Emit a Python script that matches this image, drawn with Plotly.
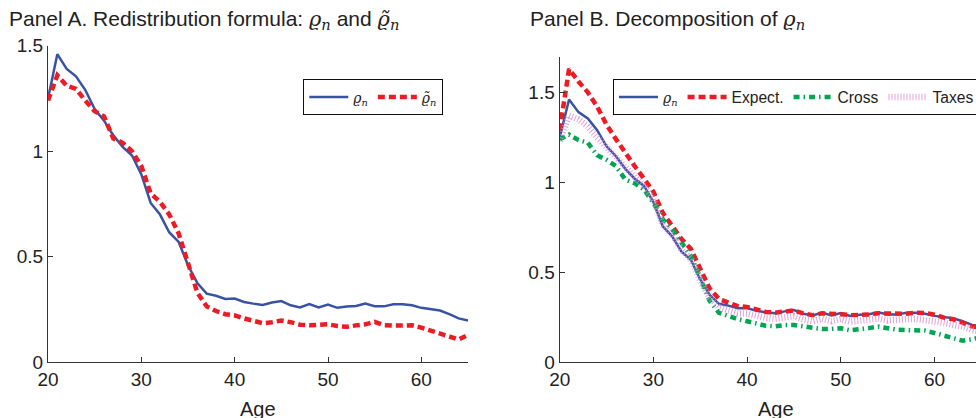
import plotly.graph_objects as go

ages = list(range(20, 66))

rho = [1.25, 1.46, 1.39, 1.355, 1.29, 1.20, 1.145, 1.075, 1.02, 0.98,
       0.89, 0.755, 0.70, 0.615, 0.57, 0.46, 0.375, 0.325, 0.315, 0.30,
       0.302, 0.286, 0.278, 0.272, 0.283, 0.29, 0.27, 0.26, 0.276, 0.26,
       0.274, 0.258, 0.264, 0.267, 0.278, 0.266, 0.265, 0.275, 0.275, 0.27,
       0.258, 0.25, 0.245, 0.228, 0.208, 0.198]

rho_tilde = [1.24, 1.36, 1.31, 1.295, 1.24, 1.19, 1.165, 1.06, 1.04, 1.00,
             0.93, 0.80, 0.76, 0.70, 0.61, 0.47, 0.33, 0.265, 0.243, 0.228,
             0.222, 0.208, 0.195, 0.185, 0.19, 0.198, 0.19, 0.178, 0.175, 0.178,
             0.18, 0.172, 0.168, 0.175, 0.18, 0.192, 0.176, 0.174, 0.176, 0.175,
             0.164, 0.15, 0.135, 0.12, 0.108, 0.13]

expect = [1.29, 1.63, 1.56, 1.50, 1.42, 1.32, 1.24, 1.16, 1.09, 1.02,
          0.948, 0.83, 0.76, 0.685, 0.63, 0.522, 0.41, 0.352, 0.33, 0.312,
          0.308, 0.295, 0.28, 0.276, 0.281, 0.288, 0.272, 0.262, 0.272, 0.272,
          0.267, 0.262, 0.263, 0.265, 0.272, 0.272, 0.267, 0.27, 0.275, 0.274,
          0.265, 0.248, 0.239, 0.22, 0.2, 0.19]

cross = [1.24, 1.265, 1.235, 1.22, 1.15, 1.125, 1.09, 1.015, 0.995, 0.96,
         0.885, 0.795, 0.74, 0.665, 0.59, 0.47, 0.342, 0.275, 0.255, 0.24,
         0.228, 0.217, 0.203, 0.2, 0.207, 0.207, 0.198, 0.19, 0.185, 0.186,
         0.189, 0.178, 0.182, 0.19, 0.198, 0.188, 0.181, 0.179, 0.179, 0.176,
         0.163, 0.15, 0.133, 0.12, 0.128, 0.14]

taxes = [1.23, 1.37, 1.35, 1.31, 1.25, 1.195, 1.14, 1.075, 1.03, 0.98,
         0.905, 0.765, 0.71, 0.625, 0.575, 0.455, 0.36, 0.305, 0.285, 0.272,
         0.27, 0.256, 0.247, 0.242, 0.25, 0.256, 0.238, 0.228, 0.242, 0.228,
         0.24, 0.226, 0.231, 0.234, 0.244, 0.233, 0.232, 0.24, 0.241, 0.237,
         0.226, 0.218, 0.212, 0.198, 0.18, 0.17]

x_ticks = [20, 30, 40, 50, 60]
y_ticks = [0, 0.5, 1, 1.5]
y_tick_text = ["0", "0.5", "1", "1.5"]

BLUE = "#3953a4"
RED = "#ed1c24"
GREEN = "#00a651"
PINK = "#d98bd4"
SANS = "Liberation Sans, Arial, sans-serif"
MATH = "DejaVu Serif"

rho_lbl = f'<span style="font-family:{MATH}"><i>ϱ</i><sub><i>n</i></sub></span>'
rhot_lbl = f'<span style="font-family:{MATH}"><i>ϱ\u0303</i><sub><i>n</i></sub></span>'
rho_leg = f'<span style="font-family:{MATH};font-size:14px"><i>ϱ</i><sub><i>n</i></sub></span>'
rhot_leg = f'<span style="font-family:{MATH};font-size:14px"><i>ϱ\u0303</i><sub><i>n</i></sub></span>'

W, H = 976, 418

fig = go.Figure()

# Panel A
fig.add_trace(go.Scatter(x=ages, y=rho, mode="lines", name=rho_leg,
                         line=dict(color=BLUE, width=2.5), xaxis="x", yaxis="y",
                         legend="legend"))
fig.add_trace(go.Scatter(x=ages, y=rho_tilde, mode="lines", name=rhot_leg,
                         line=dict(color=RED, width=4.5, dash="7px,4px"),
                         xaxis="x", yaxis="y", legend="legend"))

# Panel B
fig.add_trace(go.Scatter(x=ages, y=rho, mode="lines", name=rho_leg,
                         line=dict(color=BLUE, width=2.5), xaxis="x2", yaxis="y2",
                         legend="legend2"))
fig.add_trace(go.Scatter(x=ages, y=expect, mode="lines", name="Expect.",
                         line=dict(color=RED, width=4.5, dash="7px,4px"),
                         xaxis="x2", yaxis="y2", legend="legend2"))
fig.add_trace(go.Scatter(x=ages, y=cross, mode="lines", name="Cross",
                         line=dict(color=GREEN, width=4.5, dash="6px,4px,1.5px,4px"),
                         xaxis="x2", yaxis="y2", legend="legend2"))
fig.add_trace(go.Scatter(x=ages, y=taxes, mode="lines", name="Taxes",
                         line=dict(color=PINK, width=6.5, dash="1px,2px"),
                         opacity=0.8, xaxis="x2", yaxis="y2", legend="legend2"))

axis_common = dict(showline=True, linecolor="#333", linewidth=1.3,
                   ticks="inside", ticklen=5, tickcolor="#333", tickwidth=1.3,
                   showgrid=False, zeroline=False, mirror=False,
                   tickfont=dict(family=SANS, size=19, color="#222"))

yb0 = (H - 362.3) / H

legend_common = dict(orientation="h", y=1 - 79 / H, xanchor="left", yanchor="top",
                     bordercolor="#111", borderwidth=1.3, bgcolor="white",
                     font=dict(family=SANS, size=15.6, color="#222"), itemwidth=39,
                     tracegroupgap=0)

fig.update_layout(
    width=W, height=H,
    margin=dict(l=0, r=0, t=0, b=0, autoexpand=False),
    paper_bgcolor="white", plot_bgcolor="white",
    font=dict(family=SANS, color="#222"),
    xaxis=dict(domain=[48 / W, 468 / W], range=[20, 65], tickvals=x_ticks,
               anchor="y", **axis_common),
    yaxis=dict(domain=[yb0, (H - 45.7) / H], range=[0, 1.5], tickvals=y_ticks,
               ticktext=y_tick_text, anchor="x", **axis_common),
    xaxis2=dict(domain=[559.7 / W, 1.0], range=[20, 64.43], tickvals=x_ticks,
                anchor="y2", **axis_common),
    yaxis2=dict(domain=[yb0, (H - 56.7) / H], range=[0, 1.698], tickvals=y_ticks,
                ticktext=y_tick_text, anchor="x2", **axis_common),
    legend=dict(x=303 / W, **legend_common),
    legend2=dict(x=612.7 / W, **legend_common),
    showlegend=True,
)

fig.add_annotation(text=f"Panel A. Redistribution formula: {rho_lbl} and {rhot_lbl}",
                   xref="paper", yref="paper", x=7 / W, y=1 - 20 / H,
                   xanchor="left", yanchor="middle", showarrow=False,
                   font=dict(family=SANS, size=21, color="#222"))
fig.add_annotation(text=f"Panel B. Decomposition of {rho_lbl}",
                   xref="paper", yref="paper", x=528 / W, y=1 - 20 / H,
                   xanchor="left", yanchor="middle", showarrow=False,
                   font=dict(family=SANS, size=21, color="#222"))
fig.add_annotation(text="Age", xref="paper", yref="paper", x=258 / W, y=1 - 409 / H,
                   xanchor="center", yanchor="middle", showarrow=False,
                   font=dict(family=SANS, size=20, color="#222"))
fig.add_annotation(text="Age", xref="paper", yref="paper", x=776 / W, y=1 - 409 / H,
                   xanchor="center", yanchor="middle", showarrow=False,
                   font=dict(family=SANS, size=20, color="#222"))

fig.write_html("out.html")
